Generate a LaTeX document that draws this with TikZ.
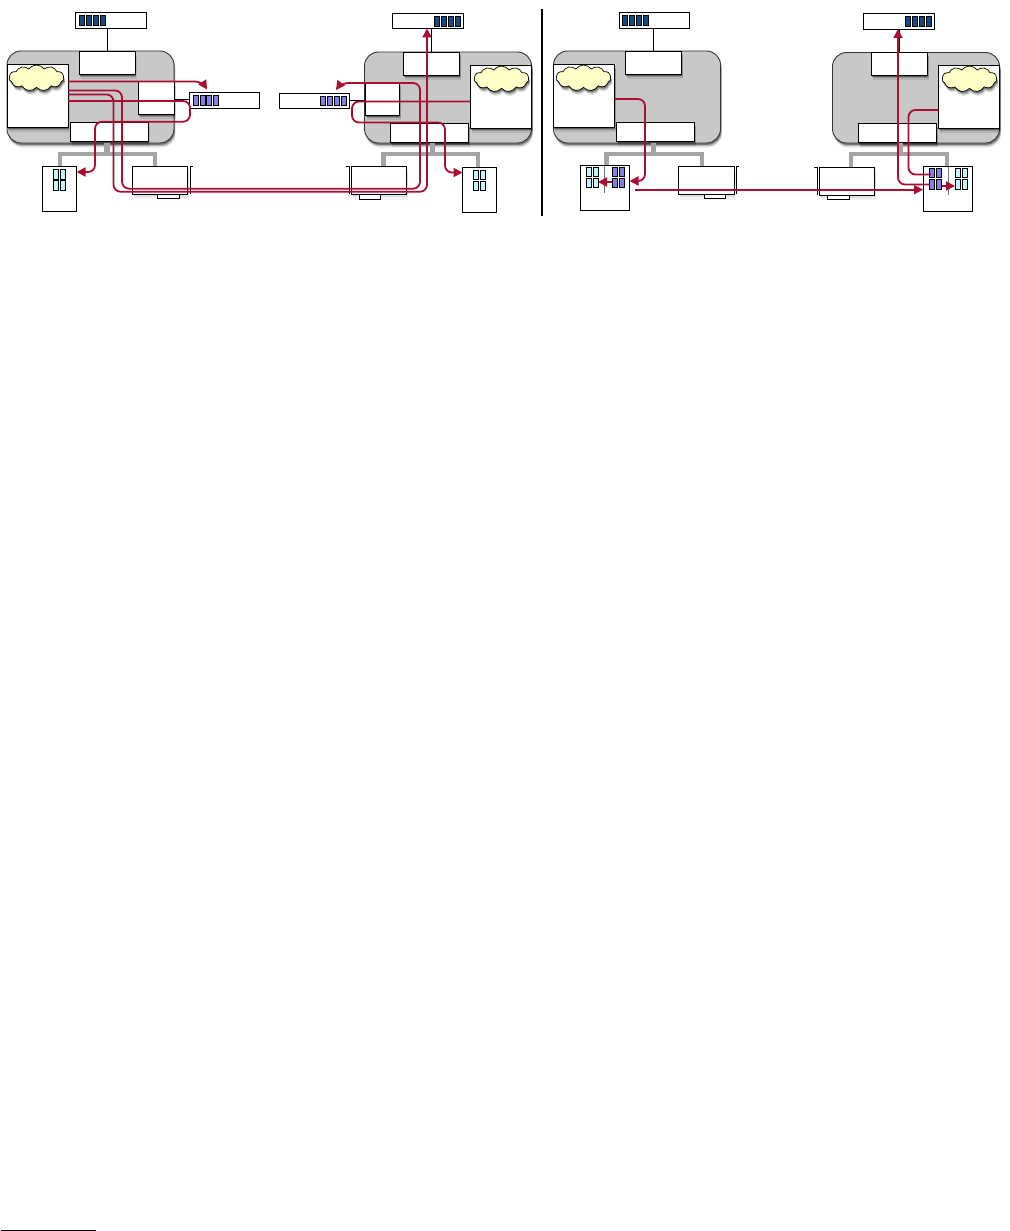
\documentclass[tikz,border=0pt]{standalone}
\usetikzlibrary{shadows,shapes.symbols,arrows.meta,calc}
\definecolor{hostgray}{HTML}{C8C8C8}
\definecolor{busgray}{HTML}{A4A4A4}
\definecolor{qdark}{HTML}{0F4C81}
\definecolor{qlight}{HTML}{8080E8}
\definecolor{qcyan}{HTML}{C0F6FA}
\definecolor{cloudy}{HTML}{FFFFC8}
\definecolor{route}{HTML}{A80F30}
\tikzset{
  softshadow/.style={
    drop shadow={shadow xshift=1.5pt,shadow yshift=-4.5pt,fill=black,opacity=.10},
    drop shadow={shadow xshift=1.2pt,shadow yshift=-3.2pt,fill=black,opacity=.20},
    drop shadow={shadow xshift=.8pt,shadow yshift=-1.8pt,fill=black,opacity=.35}},
  lightshadow/.style={
    drop shadow={shadow xshift=1.5pt,shadow yshift=-5pt,fill=black,opacity=.05},
    drop shadow={shadow xshift=1pt,shadow yshift=-2.5pt,fill=black,opacity=.08}},
  sized/.style={inner sep=0pt,outer sep=0pt,line width=.9pt},
  hostbox/.style={sized,draw=black!80,fill=hostgray,rounded corners=14pt,softshadow},
  whitebox/.style={sized,draw=black,fill=white,softshadow},
  plainbox/.style={sized,draw=black,fill=white},
  cardbox/.style={sized,draw=black,fill=white,lightshadow},
  cloudnode/.style={cloud,cloud puffs=11,cloud puff arc=110,aspect=2.2,draw=black,fill=cloudy,inner sep=0pt,outer sep=0pt,line width=.7pt,softshadow},
  bar/.style={sized,draw=black,line width=.5pt},
  link/.style={draw=black,line width=.9pt},
  bus/.style={draw=busgray,line width=4.2pt,line cap=round},
  stem/.style={draw=busgray,line width=5.5pt},
  divider/.style={draw=black,line width=2pt},
  route/.style={draw=route,line width=1.8pt,rounded corners=7pt},
  routearrow/.style={route,-{Triangle[length=9pt,width=9pt]}},
}
% name, x1, y1, x2, y2, style
\newcommand{\bx}[6]{\node[#6,minimum width={(#4)-(#2)},minimum height={(#5)-(#3)}] (#1) at ({((#2)+(#4))/2},{((#3)+(#5))/2}) {};}
% queue bars: name, x0, y1, y2, colour
\newcommand{\qbars}[5]{\foreach \qi in {0,1,2,3}{\bx{#1\qi}{#2+6.75*\qi}{#3}{#2+6.75*\qi+5}{#4}{bar,fill=#5}}}
% 2x2 bars: name, x0, top row, bottom row, colour
\newcommand{\fourbars}[7]{%
  \bx{#1a}{#2}{#3}{#2+5}{#4}{bar,fill=#7}\bx{#1b}{#2+6.6}{#3}{#2+11.6}{#4}{bar,fill=#7}%
  \bx{#1c}{#2}{#5}{#2+5}{#6}{bar,fill=#7}\bx{#1d}{#2+6.6}{#5}{#2+11.6}{#6}{bar,fill=#7}}
\begin{document}
\begin{tikzpicture}[x=1pt,y=-1pt]
\useasboundingbox (0,0) rectangle (1009,1231);
\fill[white] (0,0) rectangle (1009,1231);

% ---------- panel A ----------
\bx{hostA}{7}{51}{174}{143}{hostbox}
\bx{qA}{75}{12.5}{146}{28}{plainbox}
\qbars{qAb}{79.5}{15.5}{25.5}{qdark}
\bx{topA}{79}{51}{135}{74}{whitebox}
\bx{leftA}{7}{64.5}{68}{127}{whitebox}
\node[cloudnode,minimum width=55pt,minimum height=26pt] (cloudA) at (36.5,78) {};
\bx{nicA}{138.5}{81}{174}{114}{whitebox}
\bx{botA}{70.5}{122}{148}{141}{whitebox}
\bx{qB}{189.5}{92.5}{259.5}{108}{plainbox}
\qbars{qBb}{193}{95.5}{105.5}{qlight}
\draw[link] (topA.north) -- (topA.north |- qA.south);
\draw[link] (nicA.east |- 0,99.5) -- (qB.west |- 0,99.5);
\coordinate (jA) at (107,154);\coordinate (lA) at (60,154);\coordinate (rA) at (155,154);
\bx{cardA}{132.5}{166.5}{187.5}{194}{cardbox}
\bx{tabA}{157.5}{194}{179.5}{198.5}{plainbox}
\draw[link] (190,194) -- (190,166.5) -- (193,166.5);
\draw[stem] (jA |- hostA.south) -- (jA);
\draw[bus] (lA |- 0,166) -- (lA) -- (rA) -- (rA |- cardA.north);
\bx{devA}{42.5}{166.5}{76.5}{211}{plainbox}
\fourbars{dA}{53.5}{169.5}{179}{180.2}{190.5}{qcyan}
\bx{cardAw}{132.5}{166.5}{187.5}{194}{plainbox}

% ---------- panel B ----------
\bx{hostB}{364.5}{52}{531.5}{143}{hostbox}
\bx{qC}{392.5}{13.5}{463.5}{28.5}{plainbox}
\qbars{qCb}{434.5}{16.5}{26}{qdark}
\bx{topB}{403.5}{52}{459.5}{75}{whitebox}
\bx{rightB}{470.5}{65.5}{531.5}{128}{whitebox}
\node[cloudnode,minimum width=55pt,minimum height=26pt] (cloudB) at (501.5,79) {};
\bx{nicB}{365.5}{82}{399.5}{115}{whitebox}
\bx{botB}{390.5}{123.5}{468.5}{142}{whitebox}
\bx{qD}{279.5}{93.5}{349.5}{108.5}{plainbox}
\qbars{qDb}{320.5}{96.5}{105.5}{qlight}
\draw[link] (topB.north) -- (topB.north |- qC.south);
\draw[link] (qD.east |- 0,100) -- (nicB.west |- 0,100);
\coordinate (jB) at (432.5,154);\coordinate (lB) at (383.5,154);\coordinate (rB) at (478,154);
\draw[stem] (jB |- hostB.south) -- (jB);
\bx{cardB}{351.5}{166.5}{406.5}{194.5}{cardbox}
\bx{tabB}{359.5}{194.5}{380.5}{199}{plainbox}
\draw[link] (349.5,194) -- (349.5,166.5) -- (346,166.5);
\draw[bus] (lB |- cardB.north) -- (lB) -- (rB) -- (rB |- 0,167);
\bx{devB}{462.5}{167.5}{496.5}{212}{plainbox}
\fourbars{dB}{473.7}{170.5}{179.5}{181.7}{190.7}{qcyan}
\bx{cardBw}{351.5}{166.5}{406.5}{194.5}{plainbox}

% red routes A <-> B
\coordinate (r1) at (207,89.5);
\draw[routearrow] (leftA.east |- 0,81.5) -- (202,81.5) [sharp corners] -- (r1);
\draw[routearrow] (leftA.east |- 0,90.5) -- (122,90.5) -- (122,188.7) -- (420,188.7) -- (420,83) -- (341,83) [sharp corners] -- (336,90);
\draw[routearrow] (leftA.east |- 0,94.5) -- (113.5,94.5) -- (113.5,191.7) -- (427,191.7) -- (qC.south -| 427,0);
\draw[routearrow] (leftA.east |- 0,101) -- (190,101) -- (190,121.7) -- (95,121.7) -- (95,172) -- (devA.east |- 0,172);
\draw[routearrow] (rightB.west |- 0,101.5) -- (352,101.5) -- (352,122.5) -- (445,122.5) -- (445,172.5) -- (devB.west |- 0,172.5);

% divider
\coordinate (dt) at (541.5,9);\coordinate (db) at (541.5,216);
\draw[divider] (dt) -- (db);

% ---------- panel C ----------
\bx{hostC}{553.5}{51}{720.5}{143}{hostbox}
\bx{qE}{619.5}{12.5}{689.5}{28}{plainbox}
\qbars{qEb}{622.7}{15.5}{25.5}{qdark}
\bx{topC}{625.5}{51}{681.5}{74}{whitebox}
\bx{leftC}{553.5}{64.5}{614.5}{127}{whitebox}
\node[cloudnode,minimum width=55pt,minimum height=26pt] (cloudC) at (583.5,78) {};
\bx{botC}{616.5}{122}{694.5}{141}{whitebox}
\draw[link] (topC.north) -- (topC.north |- qE.south);
\coordinate (jC) at (653.5,154);\coordinate (lC) at (606.5,154);\coordinate (rC) at (702,154);
\draw[stem] (jC |- hostC.south) -- (jC);
\bx{cardC}{678.5}{166.5}{734}{194.5}{cardbox}
\bx{tabC}{704.5}{194.5}{725.5}{198.5}{plainbox}
\draw[link] (736,194) -- (736,166.5) -- (739,166.5);
\draw[bus] (lC |- 0,166) -- (lC) -- (rC) -- (rC |- cardC.north);
\bx{devC}{580.5}{165.5}{629.5}{210}{plainbox}
\bx{cardCw}{678.5}{166.5}{734}{194.5}{plainbox}
\fourbars{dC}{586.2}{167.2}{176.7}{178.5}{187.7}{qcyan}
\fourbars{dCq}{612.6}{167.2}{176.7}{178.5}{187.7}{qlight}
\draw[draw=black!55,line width=.8pt] (devC.north -| 604.5,0) -- (604.5,193);

% ---------- panel D ----------
\bx{hostD}{832.5}{52.5}{999.5}{143}{hostbox}
\bx{qF}{863.5}{13.5}{934.5}{29}{plainbox}
\qbars{qFb}{905.5}{16.5}{26}{qdark}
\bx{topD}{871.5}{52.5}{927.5}{75}{whitebox}
\bx{rightD}{938.5}{65.5}{999.5}{128}{whitebox}
\node[cloudnode,minimum width=55pt,minimum height=26pt] (cloudD) at (969.5,79) {};
\bx{botD}{858.5}{123.5}{936.5}{142.5}{whitebox}
\draw[link] (topD.north) -- (topD.north |- qF.south);
\coordinate (jD) at (900,154);\coordinate (lD) at (851,154);\coordinate (rD) at (947,154);
\draw[stem] (jD |- hostD.south) -- (jD);
\bx{cardD}{819.5}{167}{874.5}{195}{cardbox}
\bx{tabD}{827.5}{195}{849.5}{199.5}{plainbox}
\draw[link] (817.5,195) -- (817.5,167) -- (814,167);
\draw[bus] (lD |- cardD.north) -- (lD) -- (rD) -- (rD |- 0,166);
\bx{devD}{923.5}{166.5}{972.5}{211}{plainbox}
\bx{cardDw}{819.5}{167}{874.5}{195}{plainbox}
\fourbars{dD}{929.3}{168.5}{177.5}{179.5}{189.5}{qlight}
\fourbars{dDq}{955.5}{168.5}{177.5}{179.5}{189.5}{qcyan}
\draw[draw=black!55,line width=.8pt] (devD.north -| 948.5,0) -- (948.5,195);

% red routes C <-> D
\draw[routearrow] (leftC.east |- 0,99) -- (645,99) -- (645,181) -- (devC.east |- 0,181);
\draw[routearrow,rounded corners=0pt] (612,182) -- (598,182);
\coordinate (longstart) at (635,189.7);
\draw[routearrow] (longstart) -- (923,189.7);
\draw[routearrow] (930,184.5) -- (898,184.5) -- (qF.south -| 898,0);
\draw[route] (rightD.west |- 0,110) -- (908.5,110) -- (908.5,174.5) -- (931,174.5);
\draw[routearrow,rounded corners=0pt] (942,186) -- (955,186);

% footnote rule
\coordinate (fa) at (1,1230.4);\coordinate (fb) at (96,1230.4);
\draw[line width=1pt,draw=black] (fa) -- (fb);
\end{tikzpicture}
\end{document}
